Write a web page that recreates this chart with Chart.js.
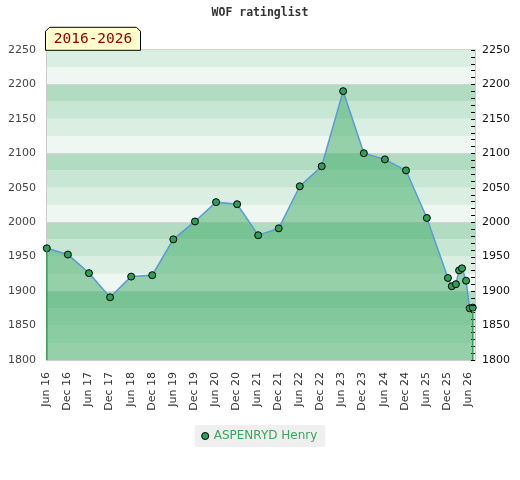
<!DOCTYPE html>
<html>
<head>
<meta charset="utf-8">
<script src="https://cdn.jsdelivr.net/npm/chart.js@4.4.1/dist/chart.umd.min.js"></script>
<style>
  html, body { margin: 0; padding: 0; background: #fff; }
</style>
</head>
<body>
<canvas id="rating-chart" width="520" height="480"></canvas>
<script>
// rating list dates and ratings
const listDates = ['2016-06-05', '2016-12-05', '2017-06-05', '2017-12-05', '2018-06-05', '2018-12-05',
    '2019-06-05', '2019-12-10', '2020-06-10', '2020-12-10', '2021-06-10', '2021-12-05', '2022-06-05',
    '2022-12-12', '2023-06-15', '2023-12-12', '2024-06-12', '2024-12-12', '2025-06-10', '2025-12-10',
    '2026-01-13', '2026-02-18', '2026-03-15', '2026-04-10', '2026-05-15', '2026-06-15', '2026-07-12'];
const ratings = [1962, 1953, 1926, 1891, 1921, 1923, 1975, 2001, 2029, 2026, 1981, 1991, 2052,
    2081, 2190, 2100, 2091, 2075, 2006, 1919, 1907, 1910, 1930, 1933, 1915, 1875, 1876];
const tickLabels = ['Jun 16', 'Dec 16', 'Jun 17', 'Dec 17', 'Jun 18', 'Dec 18', 'Jun 19', 'Dec 19',
    'Jun 20', 'Dec 20', 'Jun 21', 'Dec 21', 'Jun 22', 'Dec 22', 'Jun 23', 'Dec 23', 'Jun 24',
    'Dec 24', 'Jun 25', 'Dec 25', 'Jun 26'];
const playerName = 'ASPENRYD Henry';
const periodText = '2016-2026';

const monthNames = ['Jan', 'Feb', 'Mar', 'Apr', 'May', 'Jun', 'Jul', 'Aug', 'Sep', 'Oct', 'Nov', 'Dec'];

// months counted from Jan 2016
function monthIndex(iso) {
    const [y, m, d] = iso.split('-').map(Number);
    return (y - 2016) * 12 + (m - 1) + (d - 1) / 30;
}
function labelMonth(label) {
    const [mon, yy] = label.split(' ');
    return (Number(yy) - 16) * 12 + monthNames.indexOf(mon);
}
const tickMonths = tickLabels.map(labelMonth);

const bandColors = ['#eef7f1', '#dbeee2', '#c8e6d4', '#b2dcc2'];

Chart.defaults.font.family = "'DejaVu Sans', sans-serif";

const decor = {
    id: 'decor',
    beforeDraw(chart) {
        const ctx = chart.ctx, a = chart.chartArea, y = chart.scales.y;
        ctx.save();
        // striped background, 25 points per band
        for (let v = y.min; v < y.max; v += 25) {
            ctx.fillStyle = bandColors[(v % 100) / 25];
            const top = y.getPixelForValue(v + 25), bottom = y.getPixelForValue(v);
            ctx.fillRect(a.left, top, a.right - a.left, bottom - top);
        }
        // legend background
        const hb = chart.legend.legendHitBoxes[0];
        if (hb) {
            ctx.fillStyle = '#efefef';
            ctx.fillRect(hb.left - 8, hb.top - 5, hb.width + 16, hb.height + 10);
        }
        ctx.restore();
    },
    afterDatasetsDraw(chart) {
        const ctx = chart.ctx, a = chart.chartArea;
        ctx.save();
        // inner tick marks on the right axis
        const y2 = chart.scales.y2;
        ctx.strokeStyle = '#000';
        ctx.lineWidth = 1;
        y2.ticks.forEach(t => {
            const py = Math.round(y2.getPixelForValue(t.value)) + 0.5;
            ctx.beginPath();
            ctx.moveTo(a.right - 4, py);
            ctx.lineTo(a.right, py);
            ctx.stroke();
        });
        // vertical edges of the filled area
        const pts = chart.getDatasetMeta(0).data;
        ctx.strokeStyle = '#3a9a55';
        ctx.lineWidth = 1.5;
        [pts[0], pts[pts.length - 1]].forEach(p => {
            ctx.beginPath();
            ctx.moveTo(p.x, p.y + 3);
            ctx.lineTo(p.x, a.bottom);
            ctx.stroke();
        });
        ctx.restore();
    },
    afterDraw(chart) {
        const ctx = chart.ctx, a = chart.chartArea;
        const x0 = a.left - 0.5, x1 = a.left + 94.5, y0 = a.top - 22.5, y1 = a.top + 0.5, c = 4;
        ctx.save();
        ctx.beginPath();
        ctx.moveTo(x0, y1);
        ctx.lineTo(x0, y0 + c);
        ctx.lineTo(x0 + c, y0);
        ctx.lineTo(x1 - c, y0);
        ctx.lineTo(x1, y0 + c);
        ctx.lineTo(x1, y1);
        ctx.closePath();
        ctx.fillStyle = '#ffffcc';
        ctx.fill();
        ctx.strokeStyle = '#000';
        ctx.lineWidth = 1;
        ctx.stroke();
        ctx.fillStyle = '#8b0000';
        ctx.font = "14.5px 'DejaVu Sans Mono', monospace";
        ctx.textAlign = 'center';
        ctx.textBaseline = 'middle';
        ctx.fillText(periodText, (x0 + x1) / 2, y0 + 12);
        ctx.restore();
    }
};

new Chart(document.getElementById('rating-chart'), {
    type: 'line',
    data: {
        datasets: [{
            label: playerName,
            data: listDates.map((d, i) => ({ x: monthIndex(d), y: ratings[i] })),
            borderColor: '#5b9bd5',
            borderWidth: 1.5,
            backgroundColor: 'rgba(62,169,99,0.5)',
            fill: 'start',
            tension: 0,
            pointRadius: 3.5,
            pointBackgroundColor: '#2f9e58',
            pointBorderColor: '#000',
            pointBorderWidth: 1,
            clip: false
        }]
    },
    options: {
        responsive: false,
        animation: false,
        devicePixelRatio: 1,
        layout: { padding: { bottom: 28 } },
        scales: {
            x: {
                type: 'linear',
                min: 4.9,
                max: 127,
                afterBuildTicks: s => { s.ticks = tickMonths.map(v => ({ value: v })); },
                afterFit: s => { s.height = 60; },
                ticks: {
                    autoSkip: false,
                    minRotation: 90,
                    maxRotation: 90,
                    padding: 12,
                    color: '#333',
                    font: { size: 11 },
                    callback: (v, i) => tickLabels[i]
                },
                grid: { display: false, drawTicks: false },
                border: { color: '#cccccc' }
            },
            y: {
                position: 'left',
                min: 1800,
                max: 2250,
                afterFit: s => { s.width = 46; },
                ticks: { stepSize: 50, padding: 10, color: '#444', font: { size: 11 }, callback: v => String(v) },
                grid: {
                    drawTicks: false,
                    color: c => (c.tick.value % 100 === 0 || c.tick.value === 2250) ? '#d4d4d4' : 'rgba(0,0,0,0)'
                },
                border: { color: '#cccccc' }
            },
            y2: {
                position: 'right',
                min: 1800,
                max: 2250,
                afterFit: s => { s.width = 45; },
                ticks: {
                    stepSize: 10,
                    autoSkip: false,
                    padding: 7,
                    color: '#111',
                    font: { size: 11 },
                    callback: v => (v % 50 === 0 ? String(v) : '')
                },
                grid: { drawOnChartArea: false, drawTicks: false },
                border: { color: '#cccccc' }
            }
        },
        plugins: {
            title: {
                display: true,
                text: 'WOF ratinglist',
                color: '#333',
                font: { family: "'DejaVu Sans Mono', monospace", size: 11.5, weight: 'bold' },
                padding: { top: 6, bottom: 30 }
            },
            legend: {
                position: 'bottom',
                labels: {
                    usePointStyle: true,
                    boxWidth: 5,
                    boxHeight: 5,
                    color: '#3aa55b',
                    font: { size: 12 },
                    padding: 10
                }
            },
            tooltip: { enabled: false }
        }
    },
    plugins: [decor]
});
</script>
</body>
</html>
